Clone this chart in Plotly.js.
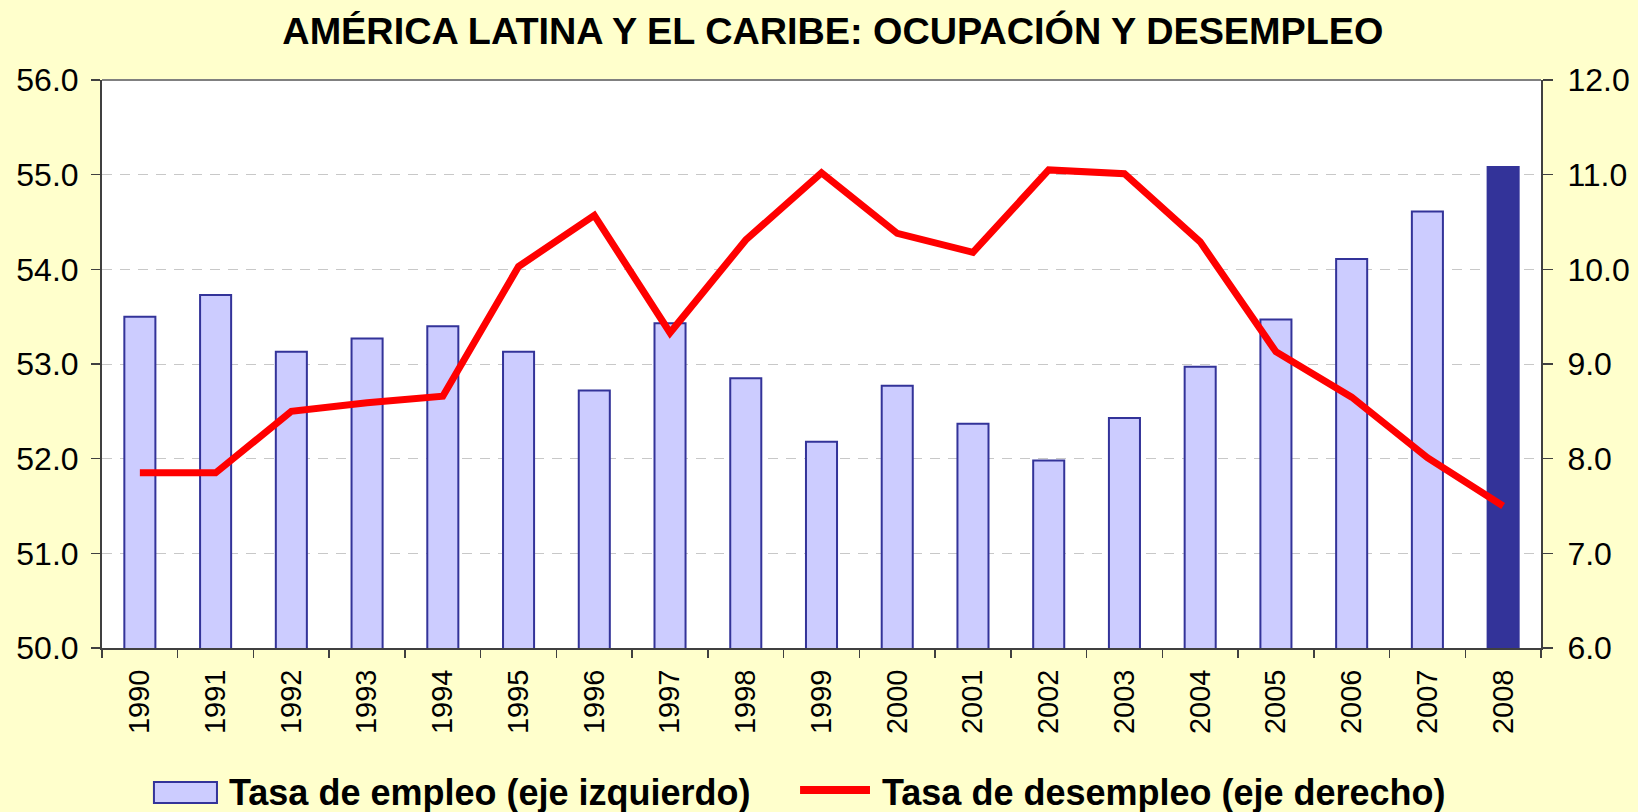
<!DOCTYPE html>
<html>
<head>
<meta charset="utf-8">
<script src="https://cdn.plot.ly/plotly-3.0.1.min.js"></script>
<style>
  html, body { margin: 0; padding: 0; background: #FFFFCC; }
  #chart { width: 1638px; height: 812px; }
</style>
</head>
<body>
<div id="chart"></div>
<script>
// ---- Data ----
const years = ['1990','1991','1992','1993','1994','1995','1996','1997','1998','1999',
               '2000','2001','2002','2003','2004','2005','2006','2007','2008'];
const employmentRate = [53.50, 53.73, 53.13, 53.27, 53.40, 53.13, 52.72, 53.43, 52.85, 52.18,
                        52.77, 52.37, 51.98, 52.43, 52.97, 53.47, 54.11, 54.61, 55.08];
const unemploymentRate = [7.85, 7.85, 8.50, 8.59, 8.66, 10.03, 10.57, 9.33, 10.31, 11.02,
                          10.38, 10.18, 11.05, 11.01, 10.29, 9.13, 8.65, 8.01, 7.50];
const highlightYear = '2008';
const chartTitle = 'AMÉRICA LATINA Y EL CARIBE: OCUPACIÓN Y DESEMPLEO';
const employmentName = 'Tasa de empleo (eje izquierdo)';
const unemploymentName = 'Tasa de desempleo (eje derecho)';

// ---- Styles ----
const FONT = '"Liberation Sans", Arial, sans-serif';
const barLight = '#CCCCFF';
const barDark = '#333399';
const lineRed = '#FF0000';

const barColors = years.map(y => y === highlightYear ? barDark : barLight);

const traces = [
  {
    type: 'bar',
    x: years,
    y: employmentRate,
    name: employmentName,
    yaxis: 'y',
    marker: { color: barColors, line: { color: barDark, width: 2 } },
    showlegend: false
  },
  {
    type: 'scatter',
    mode: 'lines',
    x: years,
    y: unemploymentRate,
    name: unemploymentName,
    yaxis: 'y2',
    line: { color: lineRed, width: 7 },
    showlegend: false
  }
];

const axisLine = '#404040';

const layout = {
  width: 1638,
  height: 812,
  paper_bgcolor: '#FFFFCC',
  plot_bgcolor: '#FFFFFF',
  margin: { l: 102, r: 97, t: 80, b: 164 },
  bargap: 0.59,
  showlegend: false,
  title: {
    text: chartTitle,
    font: { family: FONT, size: 37.8, color: '#000000', weight: 'bold' },
    xref: 'container', yref: 'container',
    x: 0.5085, xanchor: 'center',
    y: 0.962, yanchor: 'middle'
  },
  xaxis: {
    type: 'category',
    showline: true, linecolor: axisLine, linewidth: 2,
    ticks: 'outside', ticklen: 8, tickcolor: axisLine, tickwidth: 1.5,
    tickson: 'boundaries',
    tickangle: -90,
    ticklabelstandoff: 8,
    tickfont: { family: FONT, size: 29, color: '#000000' },
    showgrid: false,
    automargin: false,
    fixedrange: true
  },
  yaxis: {
    range: [50, 56], dtick: 1, tickformat: '.1f',
    showline: true, linecolor: axisLine, linewidth: 2,
    ticks: 'outside', ticklen: 9, tickcolor: axisLine, tickwidth: 1.5,
    ticklabelstandoff: 6,
    tickfont: { family: FONT, size: 32, color: '#000000' },
    showgrid: true, gridcolor: '#C8C8C8', gridwidth: 1, griddash: '10px,8px',
    zeroline: false,
    automargin: false,
    fixedrange: true
  },
  yaxis2: {
    range: [6, 12], dtick: 1, tickformat: '.1f',
    overlaying: 'y', side: 'right',
    showline: true, linecolor: axisLine, linewidth: 2,
    ticks: 'outside', ticklen: 10, tickcolor: axisLine, tickwidth: 1.5,
    ticklabelstandoff: 8,
    tickfont: { family: FONT, size: 32, color: '#000000' },
    showgrid: false, zeroline: false,
    automargin: false,
    fixedrange: true
  },
  shapes: [
    // top frame of plot area
    { type: 'line', xref: 'paper', yref: 'paper', x0: 0, x1: 1, y0: 1, y1: 1,
      line: { color: '#808080', width: 2 } },
    // legend swatch: bars
    { type: 'rect', xref: 'paper', yref: 'paper', x0: 0.0361, x1: 0.0799, y0: -0.2729, y1: -0.2359,
      fillcolor: barLight, line: { color: barDark, width: 2 } },
    // legend swatch: line
    { type: 'line', xref: 'paper', yref: 'paper', x0: 0.4851, x1: 0.5337, y0: -0.2500, y1: -0.2500,
      line: { color: lineRed, width: 8 } }
  ],
  annotations: [
    { xref: 'paper', yref: 'paper', x: 0.0872, y: -0.2544, xanchor: 'left', yanchor: 'middle',
      showarrow: false, text: employmentName,
      font: { family: FONT, size: 36, color: '#000000', weight: 'bold' } },
    { xref: 'paper', yref: 'paper', x: 0.5410, y: -0.2544, xanchor: 'left', yanchor: 'middle',
      showarrow: false, text: unemploymentName,
      font: { family: FONT, size: 36, color: '#000000', weight: 'bold' } }
  ]
};

Plotly.newPlot('chart', traces, layout, { displayModeBar: false, staticPlot: true });
</script>
</body>
</html>
